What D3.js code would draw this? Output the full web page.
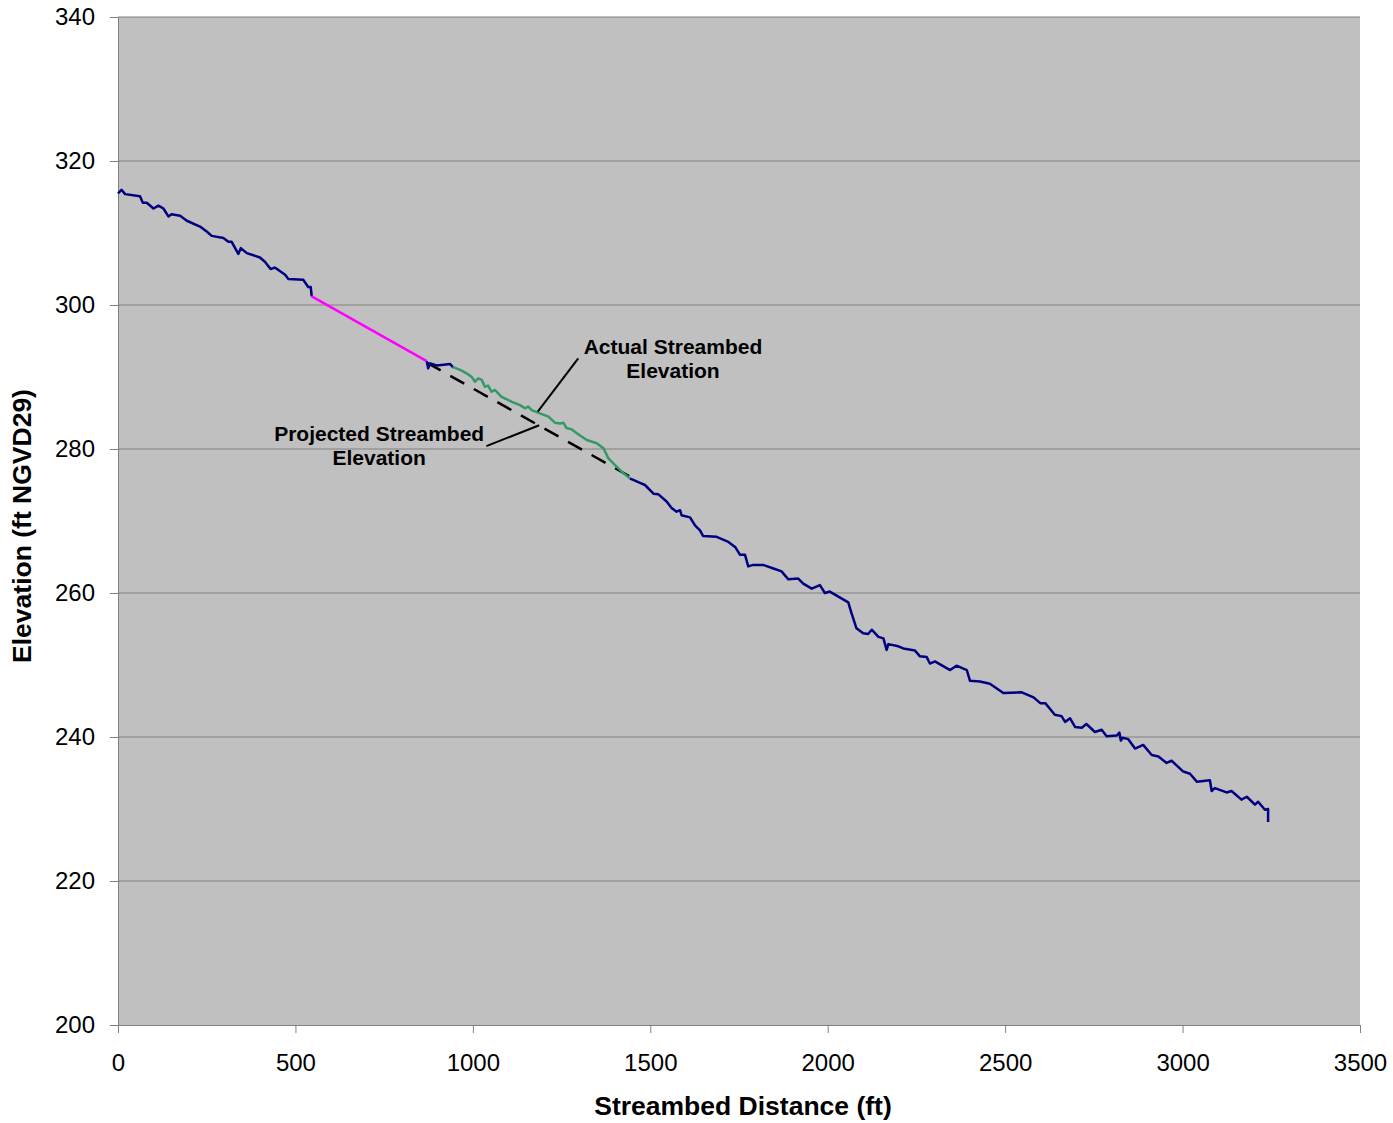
<!DOCTYPE html>
<html>
<head>
<meta charset="utf-8">
<script src="https://cdn.jsdelivr.net/npm/d3@7"></script>
<style>
  body { margin: 0; background: #fff; }
  text { font-family: Arial, "Liberation Sans", sans-serif; }
</style>
</head>
<body>
<div id="chart"></div>
<script>
// streambed profile, [distance ft, elevation ft]
let upstream = [[0,315.5],[10,316.0],[20,315.4],[62,315.1],[70,314.2],[81,314.2],[100,313.4],[114,313.8],[128,313.4],
  [142,312.3],[151,312.6],[175,312.4],[194,311.7],[231,310.9],[250,310.2],[264,309.6],[297,309.3],[311,308.8],
  [320,308.8],[339,307.1],[346,307.9],[363,307.2],[400,306.6],[414,306.0],[430,305.0],[442,305.2],[471,304.2],
  [480,303.6],[522,303.5],[536,302.5],[543,302.5],[546,301.2]];
let culvert = [[546,301.2],[870,292.2]];
let hook = [[870,292.2],[874,291.2],[880,291.9],[898,291.6],[936,291.8],[945,291.3]];
let actual = [[943,291.4],[964,291.0],[983,290.5],[997,290.0],[1006,289.35],[1015,289.8],[1025,289.6],[1034,288.65],
  [1043,288.8],[1053,287.95],[1062,288.2],[1081,287.25],[1110,286.55],[1133,286.1],[1147,285.65],[1156,285.9],
  [1166,285.4],[1189,284.95],[1213,284.5],[1231,283.65],[1246,283.55],[1255,283.65],[1264,282.9],[1278,282.75],
  [1293,282.2],[1321,281.25],[1349,280.8],[1368,280.1],[1382,278.7],[1405,277.55],[1424,276.65],[1443,275.9]];
let downstream = [[1443,275.9],[1452,275.7],[1471,275.3],[1485,275.0],[1509,273.8],[1523,273.7],[1546,272.7],
  [1560,271.8],[1574,271.3],[1584,271.5],[1588,270.8],[1612,270.5],[1626,269.4],[1640,268.7],[1649,267.9],
  [1687,267.8],[1720,267.1],[1739,266.4],[1753,265.3],[1767,265.3],[1776,263.7],[1790,263.9],[1818,263.9],
  [1847,263.4],[1870,263.0],[1889,261.9],[1917,262.0],[1931,261.3],[1955,260.6],[1978,261.1],[1992,260.0],
  [2006,260.2],[2030,259.5],[2058,258.7],[2067,257.2],[2081,255.1],[2100,254.4],[2114,254.3],[2124,254.9],
  [2143,253.9],[2157,253.7],[2166,252.1],[2171,252.9],[2199,252.6],[2213,252.3],[2246,252.0],[2260,251.2],
  [2279,251.1],[2288,250.2],[2302,250.5],[2345,249.3],[2363,249.9],[2392,249.3],[2401,247.8],[2429,247.7],
  [2457,247.4],[2495,246.1],[2547,246.2],[2580,245.5],[2599,244.7],[2613,244.7],[2640,243.1],[2659,242.9],
  [2669,242.1],[2683,242.6],[2697,241.4],[2716,241.3],[2729,241.8],[2753,240.7],[2772,241.0],[2786,240.1],
  [2814,240.2],[2822,240.6],[2826,239.5],[2831,239.9],[2847,239.7],[2866,238.4],[2889,238.9],[2913,237.5],
  [2932,237.3],[2955,236.4],[2969,236.7],[3002,235.2],[3021,234.9],[3040,233.8],[3077,234.0],[3082,232.5],
  [3091,232.9],[3124,232.3],[3138,232.5],[3166,231.3],[3181,231.7],[3204,230.6],[3213,231.0],[3232,229.9],
  [3241,230.0],[3241,228.2]];
let projected = [[870,292.0],[1460,275.7]];

let xTicks = [0, 500, 1000, 1500, 2000, 2500, 3000, 3500];
let yTicks = [200, 220, 240, 260, 280, 300, 320, 340];

let width = 1393, height = 1123;
let margin = {top: 17, right: 33, bottom: 98, left: 118};

let svg = d3.select("#chart").append("svg")
  .attr("width", width).attr("height", height);

let x = d3.scaleLinear().domain([0, 3500]).range([margin.left, width - margin.right]);
let y = d3.scaleLinear().domain([200, 340]).range([height - margin.bottom, margin.top]);

svg.append("rect")
  .attr("x", x(0)).attr("y", y(340))
  .attr("width", x(3500) - x(0)).attr("height", y(200) - y(340))
  .attr("fill", "#c0c0c0");

// gridlines
svg.append("g")
  .selectAll("line")
  .data(yTicks.filter(d => d > 200))
  .enter().append("line")
  .attr("x1", x(0)).attr("x2", x(3500))
  .attr("y1", d => y(d)).attr("y2", d => y(d))
  .attr("stroke", "#808080").attr("stroke-width", 1);

svg.append("g")
  .attr("transform", "translate(0," + y(200) + ")")
  .style("font-size", "24px")
  .call(d3.axisBottom(x).tickValues(xTicks).tickFormat(d3.format("d")).tickSize(8).tickPadding(21).tickSizeOuter(0))
  .call(g => g.selectAll("line, path").attr("stroke", "#808080"))
  .call(g => g.selectAll("text").attr("fill", "#000").style("font-family", "Arial, 'Liberation Sans', sans-serif"));

svg.append("g")
  .attr("transform", "translate(" + x(0) + ",0)")
  .style("font-size", "24px")
  .call(d3.axisLeft(y).tickValues(yTicks).tickSize(8).tickPadding(15).tickSizeOuter(0))
  .call(g => g.selectAll("line, path").attr("stroke", "#808080"))
  .call(g => g.selectAll("text").attr("fill", "#000").style("font-family", "Arial, 'Liberation Sans', sans-serif"));

let line = d3.line().x(d => x(d[0])).y(d => y(d[1]));

svg.append("path").datum(projected).attr("d", line)
  .attr("fill", "none").attr("stroke", "#000").attr("stroke-width", 2.5).attr("stroke-dasharray", "16,11");

let series = [[upstream, "#000080"], [culvert, "#ff00ff"], [hook, "#000080"], [actual, "#339966"], [downstream, "#000080"]];
series.forEach(s => {
  svg.append("path").datum(s[0]).attr("d", line)
    .attr("fill", "none").attr("stroke", s[1]).attr("stroke-width", 2.5)
    .attr("stroke-linejoin", "round");
});

// annotations
let leaders = [
  [[1297, 292.6], [1183, 285.2]],
  [[1038, 280.4], [1187, 283.3]]
];
leaders.forEach(l => {
  svg.append("path").datum(l).attr("d", line)
    .attr("fill", "none").attr("stroke", "#000").attr("stroke-width", 2);
});

function label(lines, cx, cy) {
  let t = svg.append("text")
    .attr("x", x(cx)).attr("y", y(cy))
    .attr("text-anchor", "middle")
    .style("font-size", "21px").style("font-weight", "bold");
  lines.forEach((s, i) => {
    t.append("tspan").attr("x", x(cx)).attr("dy", i ? 24 : 0).text(s);
  });
}
label(["Actual Streambed", "Elevation"], 1564, 293.2);
label(["Projected Streambed", "Elevation"], 736, 281.1);

svg.append("text")
  .attr("x", (x(0) + x(3500)) / 2 + 4).attr("y", 1115)
  .attr("text-anchor", "middle")
  .style("font-size", "26.5px").style("font-weight", "bold")
  .text("Streambed Distance (ft)");

svg.append("text")
  .attr("transform", "translate(31,526) rotate(-90)")
  .attr("text-anchor", "middle")
  .style("font-size", "26.5px").style("font-weight", "bold")
  .text("Elevation (ft NGVD29)");
</script>
</body>
</html>
